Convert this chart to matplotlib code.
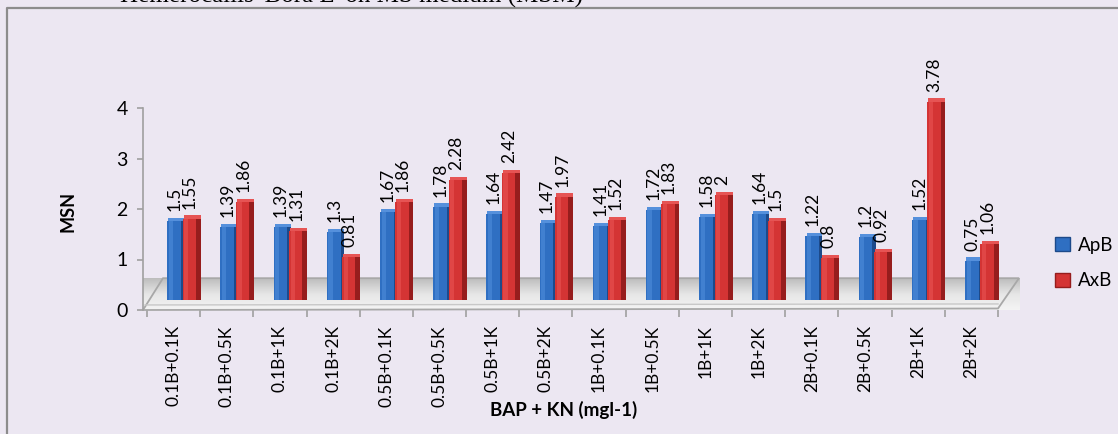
import numpy as np
import matplotlib.pyplot as plt
from matplotlib.patches import Polygon, Patch
from matplotlib.lines import Line2D
from matplotlib.colors import LinearSegmentedColormap

categories = ['0.1B+0.1K', '0.1B+0.5K', '0.1B+1K', '0.1B+2K',
              '0.5B+0.1K', '0.5B+0.5K', '0.5B+1K', '0.5B+2K',
              '1B+0.1K', '1B+0.5K', '1B+1K', '1B+2K',
              '2B+0.1K', '2B+0.5K', '2B+1K', '2B+2K']
apb = [1.5, 1.39, 1.39, 1.3, 1.67, 1.78, 1.64, 1.47,
       1.41, 1.72, 1.58, 1.64, 1.22, 1.2, 1.52, 0.75]
axb = [1.55, 1.86, 1.31, 0.81, 1.86, 2.28, 2.42, 1.97,
       1.52, 1.83, 2.0, 1.5, 0.8, 0.92, 3.78, 1.06]
y_ticks = [0, 1, 2, 3, 4]

plt.rcParams['font.family'] = ['Lato', 'DejaVu Sans']

W, H = 1118, 434
bg = '#ECE7F2'
grid_gray = '#A0A0A0'


def fx(px):
    return px / W


def fy(py):
    return 1 - py / H


fig = plt.figure(figsize=(W / 100, H / 100), dpi=100)
fig.patch.set_facecolor(bg)

# outer frame (only top and left visible)
fig.add_artist(Line2D([fx(7), fx(7), 1], [0, fy(8), fy(8)], color='#8C8C8C', lw=1.6))

# partly cut-off caption at the very top
fig.text(fx(120), fy(3), "Hemerocallis 'Bora L' on MS medium (MSM)",
         family='Liberation Serif', fontsize=18, va='baseline')

rect = [fx(143), fy(310), fx(998) - fx(143), fy(108) - fy(310)]
ax = fig.add_axes(rect)
ax.set_facecolor('none')
xmin = -0.575

# floor of the 3D chart
px_x = 16 / (998 - 147)
floor_pts = [(xmin, 0), (15.5, 0.03), (15.5 + 21 * px_x, 0.63), (xmin + 20 * px_x, 0.63)]
floor = Polygon(floor_pts, closed=True, facecolor='none', edgecolor='#A8A8A8', lw=1.3,
                clip_on=False, zorder=2)
ax.add_patch(floor)
cmap = LinearSegmentedColormap.from_list('floor', ['#F4F4F4', '#E6E6E6', '#BDBDBD'])
grad = np.linspace(0, 1, 64).reshape(-1, 1)
im = ax.imshow(grad, cmap=cmap, origin='lower', aspect='auto',
               extent=(xmin, 15.9, 0, 0.63), zorder=1, clip_on=False)
im.set_clip_path(floor)
ax.plot([xmin + 2 * px_x, 15.5], [0.1, 0.12], color='#C8C8C8', lw=1, zorder=2, clip_on=False)
ax.set_xlim(xmin, 15.5)
ax.set_ylim(0, 4)

for s in ['top', 'right', 'bottom']:
    ax.spines[s].set_visible(False)
ax.spines['left'].set_color(grid_gray)
ax.spines['left'].set_linewidth(1.2)

ax.set_yticks(y_ticks)
ax.set_yticklabels([str(t) for t in y_ticks], fontsize=14)
ax.tick_params(axis='y', colors=grid_gray, labelcolor='black', length=4, width=1.2, pad=7)

x = np.arange(len(categories))
ax.set_xticks(x)
ax.set_xticklabels(categories, rotation=90, fontsize=12.5)
ax.tick_params(axis='x', length=0, pad=11)
ax.set_xticks(np.arange(-0.5, 16, 1), minor=True)
ax.tick_params(axis='x', which='minor', colors=grid_gray, length=5, width=1.2)

# bars live on their own axis (3D perspective makes them slightly taller)
scale = 52.5
bx = fig.add_axes(rect, sharex=ax)
bx.set_facecolor('none')
bx.set_ylim(-10 / scale, (300 - 108) / scale)
bx.axis('off')

blue, blue_dark, blue_top, blue_hi = '#2F6FC2', '#1D4A8A', '#5590DC', '#4180D0'
red, red_dark, red_top, red_hi = '#D43434', '#961D1D', '#E65454', '#E04646'
cap = 0.06
series = [(apb, -0.12, 0.26, 0.06, blue, blue_dark, blue_top, blue_hi, 3),
          (axb, 0.17, 0.25, 0.09, red, red_dark, red_top, red_hi, 4)]
for vals, off, w, sw, c, cd, ct, ch, z in series:
    bx.bar(x + off, vals, width=w, align='edge', color=c, zorder=z, clip_on=False)
    bx.bar(x + off + 0.03, vals, width=0.08, align='edge', color=ch, zorder=z, clip_on=False)
    bx.bar(x + off + w, vals, width=sw, align='edge', color=cd, zorder=z, clip_on=False)
    bx.bar(x + off + 0.02, cap, bottom=vals, width=w + sw - 0.02, align='edge',
           color=ct, zorder=z, clip_on=False)

for i in range(len(categories)):
    bx.annotate(f'{apb[i]:g}', (x[i] + 0.02, apb[i]), xytext=(0, 10),
                textcoords='offset pixels', rotation=90, ha='center', va='bottom',
                fontsize=12.5, annotation_clip=False)
    bx.annotate(f'{axb[i]:g}', (x[i] + 0.31, axb[i]), xytext=(0, 10),
                textcoords='offset pixels', rotation=90, ha='center', va='bottom',
                fontsize=12.5, annotation_clip=False)

fig.text(fx(68), fy(211), 'MSN', rotation=90, weight='bold', fontsize=13,
         ha='center', va='center')
fig.text(fx(564), fy(410), 'BAP + KN (mgl-1)', weight='bold', fontsize=13.5,
         ha='center', va='center')

handles = [Patch(facecolor=blue, edgecolor=blue_dark), Patch(facecolor=red, edgecolor=red_dark)]
fig.legend(handles, ['ApB', 'AxB'], loc='center left', bbox_to_anchor=(fx(1055), fy(263)),
           frameon=False, fontsize=13.5, handlelength=0.8, handleheight=0.8,
           handletextpad=0.4, labelspacing=1.0, borderpad=0, borderaxespad=0)

fig.savefig('out.png', dpi=100, facecolor=bg)
